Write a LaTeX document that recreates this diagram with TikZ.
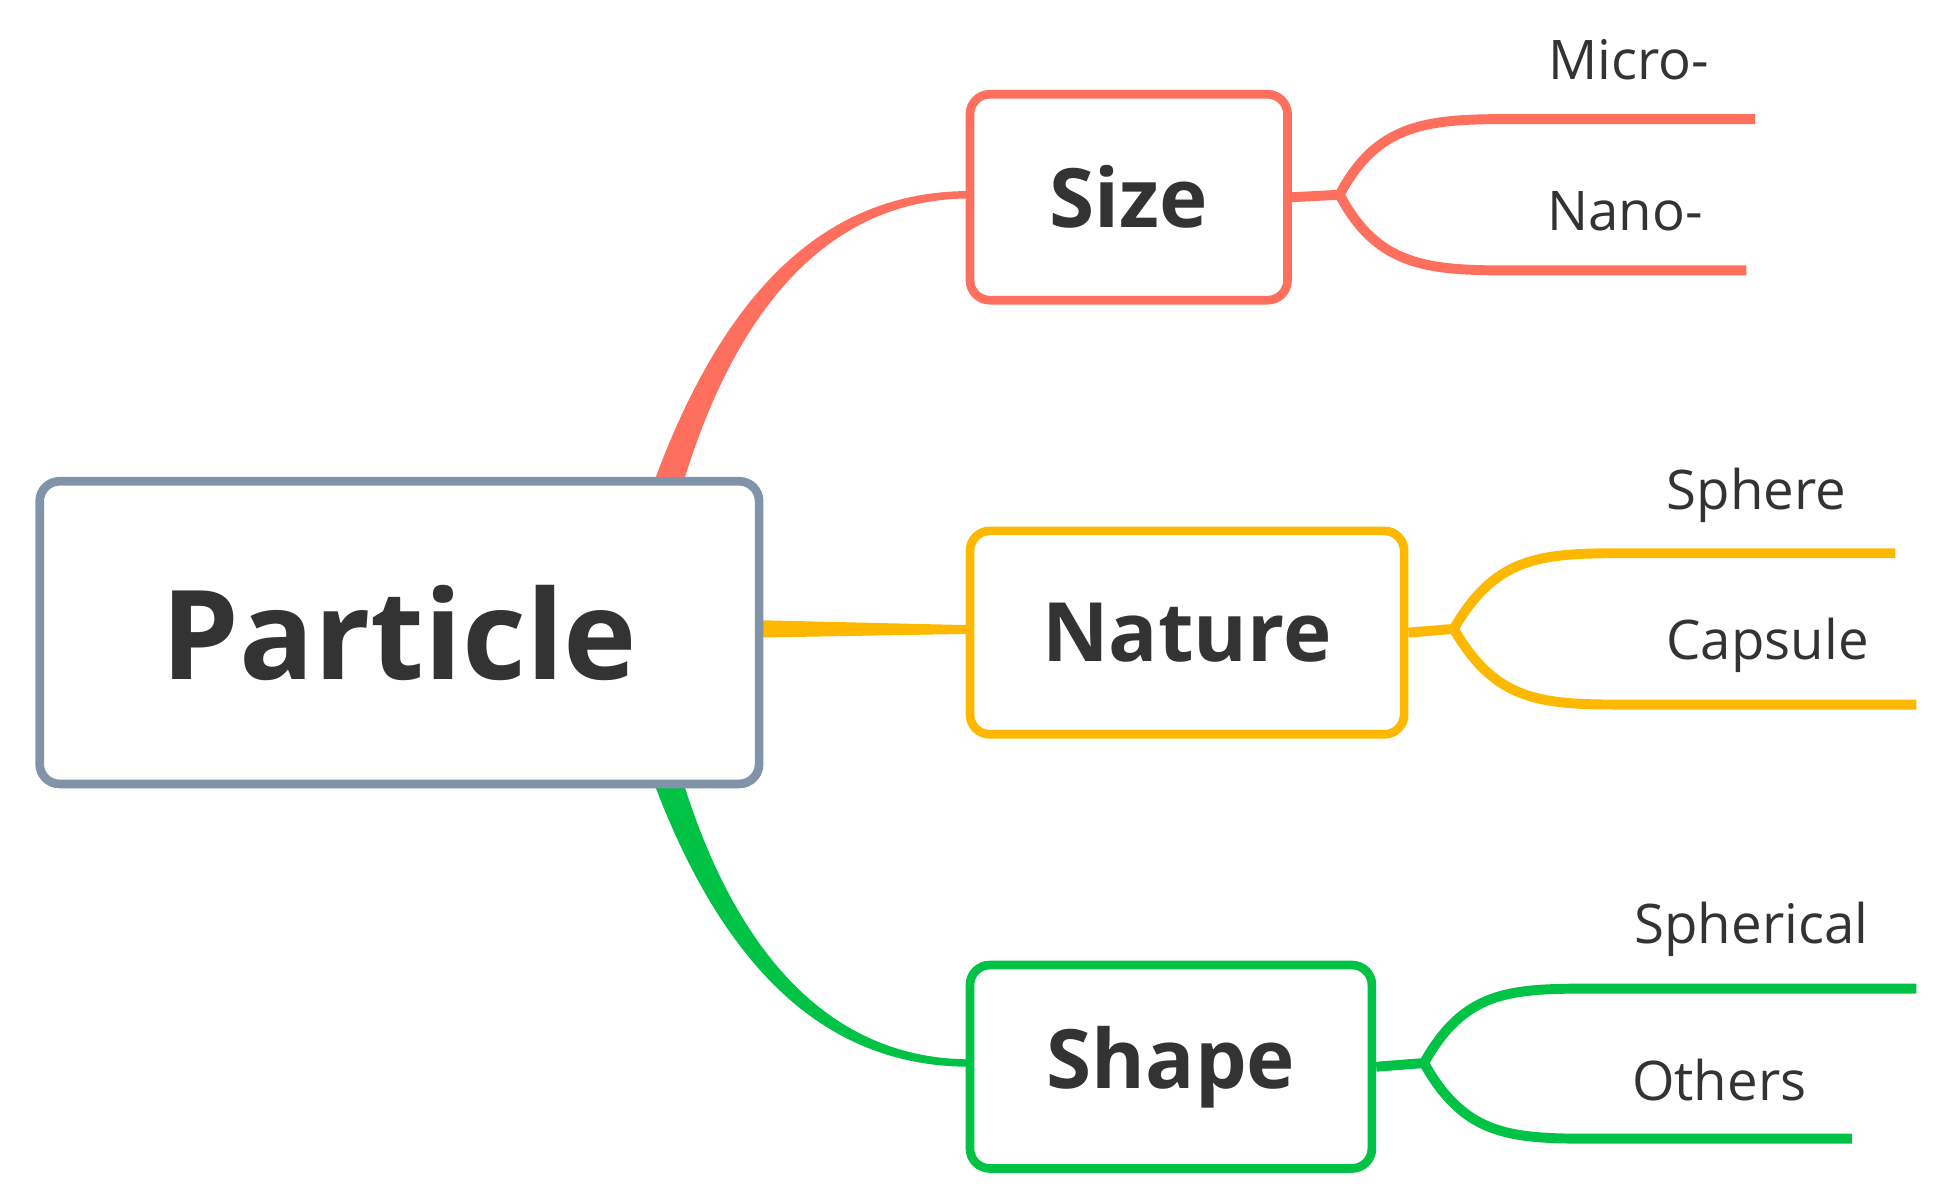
\documentclass[tikz,border=0pt]{standalone}
\usepackage{fontspec}
\setmainfont{Open Sans}
\begin{document}
\definecolor{cR}{HTML}{FF6F5E}
\definecolor{cY}{HTML}{FFB800}
\definecolor{cG}{HTML}{00C244}
\definecolor{cB}{HTML}{8193A8}
\definecolor{txt}{HTML}{333333}
\begin{tikzpicture}[x=1pt,y=-1pt,
  box/.style={draw=#1,line width=7pt,rounded corners=16pt,fill=white,text=txt,inner sep=0pt},
  br/.style={draw=#1,line width=8pt},
  lab/.style={text=txt,font=\fontsize{44}{50}\selectfont,anchor=center}]
\useasboundingbox (0,0) rectangle (1560,962);
% connectors (under boxes)
\fill[cR] (526,392) .. controls (590,215) and (680,154) .. (782,154) -- (782,160) .. controls (685,160) and (600,225) .. (550,392) -- cycle;
\fill[cY] (612,500) -- (782,504) -- (782,511) -- (612,514) -- cycle;
\fill[cG] (526,628) .. controls (590,800) and (680,860) .. (782,860) -- (782,854) .. controls (685,854) and (600,790) .. (550,628) -- cycle;
\node[box=cB,minimum width=580pt,minimum height=244pt,font=\fontsize{100}{110}\selectfont\bfseries] (P) at (322,510) {Particle};
\node[box=cR,minimum width=256pt,minimum height=166pt,font=\fontsize{66}{76}\selectfont\bfseries] (S) at (910,159) {Size};
\node[box=cY,minimum width=350pt,minimum height=164pt,font=\fontsize{66}{76}\selectfont\bfseries] (N) at (957,510) {Nature};
\node[box=cG,minimum width=324pt,minimum height=164pt,font=\fontsize{66}{76}\selectfont\bfseries] (H) at (944,860) {Shape};
% branches
\coordinate (s0) at (1080,157);
\draw[br=cR] (S.east) -- (s0) .. controls (1110,100) and (1150,96) .. (1215,96) -- (1415,96);
\draw[br=cR] (s0) .. controls (1110,214) and (1150,218) .. (1215,218) -- (1408,218);
\coordinate (n0) at (1172,507);
\draw[br=cY] (N.east) -- (n0) .. controls (1205,450) and (1240,446) .. (1305,446) -- (1528,446);
\draw[br=cY] (n0) .. controls (1205,564) and (1240,568) .. (1305,568) -- (1545,568);
\coordinate (h0) at (1148,857);
\draw[br=cG] (H.east) -- (h0) .. controls (1180,800) and (1215,797) .. (1280,797) -- (1545,797);
\draw[br=cG] (h0) .. controls (1180,914) and (1215,918) .. (1280,918) -- (1493,918);
\node[lab] (l1) at (1313,48) {Micro-};
\node[lab] (l2) at (1310,170) {Nano-};
\node[lab] (l3) at (1416,399) {Sphere};
\node[lab] (l4) at (1425,520) {Capsule};
\node[lab] (l5) at (1412,749) {Spherical};
\node[lab] (l6) at (1386,871) {Others};
\end{tikzpicture}
\end{document}
